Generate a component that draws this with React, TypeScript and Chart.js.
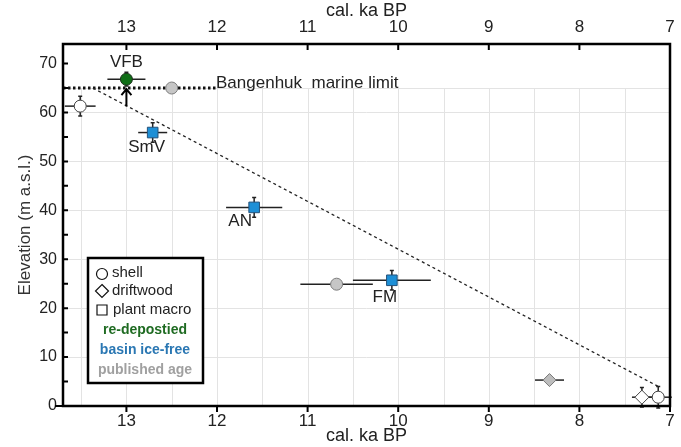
import { useEffect, useRef } from 'react';
import { Chart, registerables } from 'chart.js';

Chart.register(...registerables);

// ---- axes ----
const X_MIN = 7;
const X_MAX = 13.7;
const Y_MIN = 0;
const Y_MAX = 74;
const X_TICKS = [7, 8, 9, 10, 11, 12, 13];
const X_GRID = [13.5, 13, 12.5, 12, 11.5, 11, 10.5, 10, 9.5, 9, 8.5, 8, 7.5];
const Y_TICKS = [0, 10, 20, 30, 40, 50, 60, 70];
const Y_MINOR = [5, 15, 25, 35, 45, 55, 65];
const Y_GRID = [10, 20, 30, 40, 50, 60, 65];
const GRID_TOP = 65;

// ---- series (ka BP, elevation m a.s.l., errors) ----
const SHELL_OPEN_KA = [13.51, 7.13];
const SHELL_OPEN_ELEV = [61.3, 1.8];
const SHELL_OPEN_KA_ERR = [0.17, 0.15];
const SHELL_OPEN_ELEV_ERR = [2, 2.2];

const DRIFT_OPEN_KA = [7.31];
const DRIFT_OPEN_ELEV = [1.8];
const DRIFT_OPEN_KA_ERR = [0.11];
const DRIFT_OPEN_ELEV_ERR = [2];

const REDEP_KA = [13.0];
const REDEP_ELEV = [66.8];
const REDEP_KA_ERR = [0.21];
const REDEP_ELEV_ERR = [1.4];

const PUB_SHELL_KA = [12.5, 10.68];
const PUB_SHELL_ELEV = [65, 24.9];
const PUB_SHELL_KA_ERR = [0, 0.4];
const PUB_SHELL_ELEV_ERR = [0, 0];

const PUB_DRIFT_KA = [8.33];
const PUB_DRIFT_ELEV = [5.3];
const PUB_DRIFT_KA_ERR = [0.16];
const PUB_DRIFT_ELEV_ERR = [0];

const BASIN_NAMES = ['SmV', 'AN', 'FM'];
const BASIN_KA = [12.71, 11.59, 10.07];
const BASIN_ELEV = [55.9, 40.6, 25.7];
const BASIN_KA_ERR = [0.16, 0.31, 0.43];
const BASIN_ELEV_ERR = [2, 2, 2];

const MARINE_KA = [13.7, 12.0];
const MARINE_ELEV = [65, 65];
const TREND_KA = [13.37, 7.13];
const TREND_ELEV = [65, 4];
const ARROW_KA = 13.0;
const ARROW_FROM = 61.2;
const ARROW_TO = 65;

const FONT = '"Liberation Sans", Arial, sans-serif';
const INK = '#222';

const pts = (ka: number[], el: number[], ke: number[], ee: number[]) =>
  ka.map((x, i) => ({ x, y: el[i], xe: ke[i], ye: ee[i] }));
const line = (ka: number[], el: number[]) => ka.map((x, i) => ({ x, y: el[i] }));

// label offsets (px) relative to their anchor point
const LABELS = [
  { text: 'VFB', ka: REDEP_KA[0], el: REDEP_ELEV[0], dx: 0, dy: -17 },
  { text: BASIN_NAMES[0], ka: BASIN_KA[0], el: BASIN_ELEV[0], dx: -6, dy: 15 },
  { text: BASIN_NAMES[1], ka: BASIN_KA[1], el: BASIN_ELEV[1], dx: -14, dy: 14 },
  { text: BASIN_NAMES[2], ka: BASIN_KA[2], el: BASIN_ELEV[2], dx: -7, dy: 17 },
];

const overlay = {
  id: 'overlay',
  beforeDatasetsDraw(chart: any) {
    const { ctx, chartArea: a, scales } = chart;
    const x = scales.x, y = scales.y;
    ctx.save();
    // grid
    ctx.strokeStyle = '#e3e3e3';
    ctx.lineWidth = 1;
    const gTop = y.getPixelForValue(GRID_TOP);
    X_GRID.forEach((v) => {
      const px = Math.round(x.getPixelForValue(v)) + 0.5;
      ctx.beginPath(); ctx.moveTo(px, gTop); ctx.lineTo(px, a.bottom); ctx.stroke();
    });
    Y_GRID.forEach((v) => {
      const py = Math.round(y.getPixelForValue(v)) + 0.5;
      ctx.beginPath(); ctx.moveTo(a.left, py); ctx.lineTo(a.right, py); ctx.stroke();
    });
    // error bars
    ctx.strokeStyle = '#222';
    ctx.lineWidth = 1.5;
    chart.data.datasets.forEach((ds: any) => {
      if (!ds.errorBars) return;
      ds.data.forEach((p: any) => {
        const cx = x.getPixelForValue(p.x), cy = y.getPixelForValue(p.y);
        if (p.xe) {
          ctx.beginPath();
          ctx.moveTo(x.getPixelForValue(p.x + p.xe), cy);
          ctx.lineTo(x.getPixelForValue(p.x - p.xe), cy);
          ctx.stroke();
        }
        if (p.ye) {
          const y1 = y.getPixelForValue(p.y + p.ye), y2 = y.getPixelForValue(p.y - p.ye);
          ctx.beginPath();
          ctx.moveTo(cx, y1); ctx.lineTo(cx, y2);
          ctx.moveTo(cx - 2, y1); ctx.lineTo(cx + 2, y1);
          ctx.moveTo(cx - 2, y2); ctx.lineTo(cx + 2, y2);
          ctx.stroke();
        }
      });
    });
    ctx.restore();
  },
  afterDraw(chart: any) {
    const { ctx, chartArea: a, scales } = chart;
    const x = scales.x, y = scales.y;
    ctx.save();
    // frame
    ctx.strokeStyle = '#000';
    ctx.lineWidth = 2.5;
    ctx.strokeRect(a.left, a.top, a.right - a.left, a.bottom - a.top);
    // ticks
    ctx.lineWidth = 2;
    ctx.beginPath();
    X_TICKS.forEach((v) => {
      const px = x.getPixelForValue(v);
      ctx.moveTo(px, a.top); ctx.lineTo(px, a.top + 6);
      ctx.moveTo(px, a.bottom); ctx.lineTo(px, a.bottom + 6);
    });
    [...Y_TICKS, ...Y_MINOR].forEach((v) => {
      const py = y.getPixelForValue(v);
      ctx.moveTo(a.left, py); ctx.lineTo(a.left + 5, py);
    });
    ctx.moveTo(a.left - 8, a.bottom); ctx.lineTo(a.left, a.bottom);
    ctx.stroke();

    // arrow
    const ax = x.getPixelForValue(ARROW_KA);
    const ay1 = y.getPixelForValue(ARROW_FROM), ay2 = y.getPixelForValue(ARROW_TO) + 1;
    ctx.lineWidth = 2;
    ctx.beginPath();
    ctx.moveTo(ax, ay1); ctx.lineTo(ax, ay2);
    ctx.moveTo(ax - 5, ay2 + 6); ctx.lineTo(ax, ay2); ctx.lineTo(ax + 5, ay2 + 6);
    ctx.stroke();

    // point labels
    ctx.fillStyle = INK;
    ctx.font = `17px ${FONT}`;
    ctx.textAlign = 'center';
    ctx.textBaseline = 'middle';
    LABELS.forEach((l) => {
      ctx.fillText(l.text, x.getPixelForValue(l.ka) + l.dx, y.getPixelForValue(l.el) + l.dy);
    });
    ctx.textAlign = 'left';
    ctx.fillText('Bangenhuk  marine limit', x.getPixelForValue(MARINE_KA[1]) - 1, y.getPixelForValue(MARINE_ELEV[1]) - 5);

    // legend box
    const lx = 88, ly = 258, lw = 115, lh = 125;
    ctx.fillStyle = '#fff';
    ctx.fillRect(lx, ly, lw, lh);
    ctx.strokeStyle = '#000';
    ctx.lineWidth = 2.5;
    ctx.strokeRect(lx, ly, lw, lh);
    ctx.lineWidth = 1.2;
    ctx.strokeStyle = '#111';
    ctx.fillStyle = '#fff';
    const sx = 102;
    ctx.beginPath(); ctx.arc(sx, 274, 5.5, 0, Math.PI * 2); ctx.fill(); ctx.stroke();
    ctx.beginPath();
    ctx.moveTo(sx, 284.5); ctx.lineTo(sx + 6.5, 291); ctx.lineTo(sx, 297.5); ctx.lineTo(sx - 6.5, 291); ctx.closePath();
    ctx.fill(); ctx.stroke();
    ctx.beginPath(); ctx.rect(sx - 5, 305, 10, 10); ctx.fill(); ctx.stroke();
    ctx.fillStyle = INK;
    ctx.font = `15px ${FONT}`;
    ctx.textAlign = 'left';
    ctx.fillText('shell', 112, 273);
    ctx.fillText('driftwood', 112, 291);
    ctx.fillText('plant macro', 113, 310);
    ctx.font = `bold 14px ${FONT}`;
    ctx.textAlign = 'center';
    ctx.fillStyle = '#1f6b22';
    ctx.fillText('re-depostied', 145, 330);
    ctx.fillStyle = '#2a77b3';
    ctx.fillText('basin ice-free', 145, 350);
    ctx.fillStyle = '#a0a0a0';
    ctx.fillText('published age', 145, 370);
    ctx.restore();
  },
};

const xAxis = (position: 'top' | 'bottom', pad: number, height: number) => ({
  type: 'linear' as const,
  position,
  min: X_MIN,
  max: X_MAX,
  reverse: true,
  grid: { display: false, drawTicks: false },
  border: { display: false },
  ticks: { font: { family: FONT, size: 17 }, color: INK, padding: pad, maxRotation: 0 },
  afterBuildTicks: (s: any) => { s.ticks = X_TICKS.map((value) => ({ value })); },
  afterFit: (s: any) => { s.height = height; },
  title: { display: true, text: 'cal. ka BP', color: INK, font: { family: FONT, size: 18 }, padding: 0 },
});

export default function App() {
  const ref = useRef<HTMLCanvasElement>(null);
  useEffect(() => {
    const chart = new Chart(ref.current as HTMLCanvasElement, {
      type: 'scatter',
      data: {
        datasets: [
          {
            type: 'line', data: line(MARINE_KA, MARINE_ELEV), borderColor: '#111', borderWidth: 3,
            borderDash: [2.5, 2.5], pointRadius: 0, order: 10, xAxisID: 'x', yAxisID: 'y',
          } as any,
          {
            type: 'line', data: line(TREND_KA, TREND_ELEV), borderColor: '#222', borderWidth: 1.3,
            borderDash: [3, 3], pointRadius: 0, order: 9, xAxisID: 'x', yAxisID: 'y',
          } as any,
          {
            data: pts(SHELL_OPEN_KA, SHELL_OPEN_ELEV, SHELL_OPEN_KA_ERR, SHELL_OPEN_ELEV_ERR), errorBars: true,
            pointStyle: 'circle', pointRadius: 6, backgroundColor: '#fff', borderColor: '#444', borderWidth: 1, order: 1,
          } as any,
          {
            data: pts(DRIFT_OPEN_KA, DRIFT_OPEN_ELEV, DRIFT_OPEN_KA_ERR, DRIFT_OPEN_ELEV_ERR), errorBars: true,
            pointStyle: 'rectRot', pointRadius: 7, backgroundColor: '#fff', borderColor: '#444', borderWidth: 1, order: 1,
          } as any,
          {
            data: pts(PUB_SHELL_KA, PUB_SHELL_ELEV, PUB_SHELL_KA_ERR, PUB_SHELL_ELEV_ERR), errorBars: true,
            pointStyle: 'circle', pointRadius: 6, backgroundColor: '#c6c6c6', borderColor: '#7d7d7d', borderWidth: 1, order: 1,
          } as any,
          {
            data: pts(PUB_DRIFT_KA, PUB_DRIFT_ELEV, PUB_DRIFT_KA_ERR, PUB_DRIFT_ELEV_ERR), errorBars: true,
            pointStyle: 'rectRot', pointRadius: 6.5, backgroundColor: '#bdbdbd', borderColor: '#777', borderWidth: 1, order: 1,
          } as any,
          {
            data: pts(REDEP_KA, REDEP_ELEV, REDEP_KA_ERR, REDEP_ELEV_ERR), errorBars: true,
            pointStyle: 'circle', pointRadius: 6, backgroundColor: '#0f6e16', borderColor: '#1c2e1c', borderWidth: 1, order: 0,
          } as any,
          {
            data: pts(BASIN_KA, BASIN_ELEV, BASIN_KA_ERR, BASIN_ELEV_ERR), errorBars: true,
            pointStyle: 'rect', pointRadius: 7.5, backgroundColor: '#1d8fd6', borderColor: '#24527a', borderWidth: 1, order: 0,
          } as any,
        ],
      },
      options: {
        animation: false,
        responsive: false,
        devicePixelRatio: 1,
        events: [],
        layout: { padding: { left: 0, right: 11, top: 0, bottom: 0 } },
        plugins: { legend: { display: false }, tooltip: { enabled: false } },
        scales: {
          x: xAxis('bottom', 5, 41) as any,
          x2: xAxis('top', 6, 44) as any,
          y: {
            type: 'linear',
            position: 'left',
            min: Y_MIN,
            max: Y_MAX,
            grid: { display: false, drawTicks: false },
            border: { display: false },
            ticks: { font: { family: FONT, size: 16 }, color: INK, padding: 6 },
            afterBuildTicks: (s: any) => { s.ticks = Y_TICKS.map((value) => ({ value })); },
            afterFit: (s: any) => { s.width = 63; },
            title: {
              display: true, text: 'Elevation (m a.s.l.)', color: '#333',
              font: { family: FONT, size: 17 }, padding: { top: 15, bottom: 0 },
            },
          } as any,
        },
      },
      plugins: [overlay],
    });
    return () => chart.destroy();
  }, []);
  return (
    <div style={{ position: 'absolute', left: 0, top: 0, width: 681, height: 447, background: '#fff' }}>
      <canvas ref={ref} width={681} height={447} style={{ display: 'block', width: 681, height: 447 }} />
    </div>
  );
}
